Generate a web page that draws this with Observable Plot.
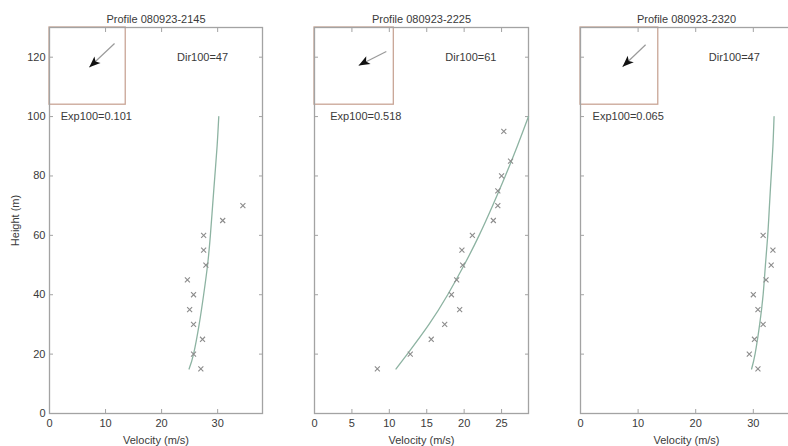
<!DOCTYPE html>
<html><head><meta charset="utf-8">
<script src="https://cdn.jsdelivr.net/npm/d3@7"></script>
<script src="https://cdn.jsdelivr.net/npm/@observablehq/plot@0.6"></script>
<style>
html,body{margin:0;padding:0;background:#fff;overflow:hidden;width:788px;height:446px}
#chart{position:relative;width:788px;height:446px;overflow:hidden}
#chart svg{position:absolute;top:0}
</style></head><body><div id="chart"></div>
<script>
// ---- data ----
const profiles = ["080923-2145", "080923-2225", "080923-2320"];
const dir100 = [47, 61, 47];
const exp100 = [0.101, 0.518, 0.065];

const heights1 = [15, 20, 25, 30, 35, 40, 45, 50, 55, 60, 65, 70];
const vel1     = [27.0, 25.7, 27.3, 25.7, 25.0, 25.7, 24.6, 27.9, 27.5, 27.5, 30.9, 34.5];
const heights2 = [15, 20, 25, 30, 35, 40, 45, 50, 55, 60, 65, 70, 75, 80, 85, 95];
const vel2     = [8.4, 12.8, 15.6, 17.4, 19.4, 18.3, 19.0, 19.8, 19.7, 21.1, 23.9, 24.5, 24.5, 25.0, 26.2, 25.3];
const heights3 = [15, 20, 25, 30, 35, 40, 45, 50, 55, 60];
const vel3     = [30.8, 29.3, 30.2, 31.7, 30.8, 30.0, 32.2, 33.1, 33.4, 31.7];

const fitHeights = [15, 20, 30, 40, 50, 60, 70, 80, 90, 100];
const fit1 = [24.9, 25.7, 26.7, 27.5, 28.2, 28.7, 29.1, 29.5, 29.9, 30.2];
const fit2 = [10.9, 12.4, 15.3, 17.8, 20.0, 22.0, 23.8, 25.5, 27.1, 28.6];
const fit3 = [29.7, 30.3, 31.1, 31.7, 32.1, 32.5, 32.8, 33.1, 33.4, 33.6];

// wind-direction arrows (start -> tip), in data units
const arrowStart = [[11.6, 124.6], [9.6, 121.9], [11.3, 124.2]];
const arrowEnd   = [[7.1, 116.6], [5.9, 117.2], [7.3, 116.8]];

const xTicks1 = [0, 10, 20, 30];
const xTicks2 = [0, 5, 10, 15, 20, 25];
const xTicks3 = [0, 10, 20, 30];
const yTicks = [0, 20, 40, 60, 80, 100, 120];

// ---- layout ----
const panels = [
  {left: 49,  fw: 213, xDomain: [0, 38],   xTicks: xTicks1, h: heights1, v: vel1, fit: fit1, insetW: 13.6, dirX: 27.3, expX: 2.0, yLabels: true},
  {left: 314, fw: 214, xDomain: [0, 28.6], xTicks: xTicks2, h: heights2, v: vel2, fit: fit2, insetW: 10.6, dirX: 20.9, expX: 2.1, yLabels: false},
  {left: 580, fw: 212, xDomain: [0, 36.8], xTicks: xTicks3, h: heights3, v: vel3, fit: fit3, insetW: 13.5, dirX: 26.7, expX: 2.1, yLabels: false}
];
const ML = 49, MR = 6;
const axisColor = "#a3a3a3";
const textColor = "#3a3a3a";
const chart = document.getElementById("chart");

// narrow filled arrowhead whose tip sits at the anchor point, pointing up before rotation
const arrowHead = {
  draw(context, size) {
    const s = Math.sqrt(size) * 0.9;
    context.moveTo(0, 0);
    context.lineTo(s * 0.5, s * 1.25);
    context.lineTo(0, s * 0.95);
    context.lineTo(-s * 0.5, s * 1.25);
    context.closePath();
  }
};

panels.forEach((p, i) => {
  const pts = p.h.map((h, j) => ({x: p.v[j], y: h}));
  const fit = fitHeights.map((h, j) => ({x: p.fit[j], y: h}));
  const arrow = [{x1: arrowStart[i][0], y1: arrowStart[i][1], x2: arrowEnd[i][0], y2: arrowEnd[i][1], rot: dir100[i] + 180}];
  const svg = Plot.plot({
    width: ML + p.fw + MR, height: 446,
    marginLeft: ML, marginRight: MR, marginTop: 27, marginBottom: 33,
    style: {fontFamily: "'Liberation Sans', Arial, sans-serif", fontSize: "11px", color: textColor, background: "transparent"},
    x: {domain: p.xDomain},
    y: {domain: [0, 130]},
    marks: [
      Plot.rect([0], {x1: 0, x2: p.insetW, y1: 104, y2: 130, stroke: "#c9a596", strokeWidth: 1.3, fill: "none"}),
      Plot.frame({stroke: axisColor, strokeWidth: 1.3}),
      Plot.axisX({ticks: p.xTicks, tickSize: -4, tickPadding: 10, stroke: axisColor, fill: textColor,
        label: "Velocity (m/s)", labelAnchor: "center", labelArrow: "none", labelOffset: 30}),
      Plot.axisX({anchor: "top", ticks: p.xTicks, tickSize: -4, stroke: axisColor, tickFormat: () => "", label: null}),
      Plot.axisY({ticks: yTicks, tickSize: -4, tickPadding: 8, stroke: axisColor, fill: textColor,
        tickFormat: p.yLabels ? d => d : () => "",
        label: p.yLabels ? "Height (m)" : null, labelAnchor: "center", labelArrow: "none", labelOffset: 38}),
      Plot.axisY({anchor: "right", ticks: yTicks, tickSize: -4, stroke: axisColor, tickFormat: () => "", label: null}),
      Plot.line(fit, {x: "x", y: "y", stroke: "#8db3a2", strokeWidth: 1.3, curve: "natural"}),
      Plot.dot(pts, {x: "x", y: "y", symbol: "times", r: 2.4, stroke: "#8c8c8c", strokeWidth: 1.1}),
      Plot.link(arrow, {x1: "x1", y1: "y1", x2: "x2", y2: "y2", stroke: "#9a9a9a", strokeWidth: 1.2}),
      Plot.dot(arrow, {x: "x2", y: "y2", symbol: arrowHead, rotate: "rot", r: 5.6, fill: "#111", stroke: "none"}),
      Plot.text([dir100[i]], {x: p.dirX, y: 120, text: d => "Dir100=" + d, fill: textColor}),
      Plot.text([exp100[i]], {x: p.expX, y: 100, text: d => "Exp100=" + d, textAnchor: "start", fill: textColor}),
      Plot.text([profiles[i]], {frameAnchor: "top", dy: -12, text: d => "Profile " + d, fill: textColor})
    ]
  });
  svg.style.left = (p.left - ML) + "px";
  chart.appendChild(svg);
});
</script>
</body></html>
